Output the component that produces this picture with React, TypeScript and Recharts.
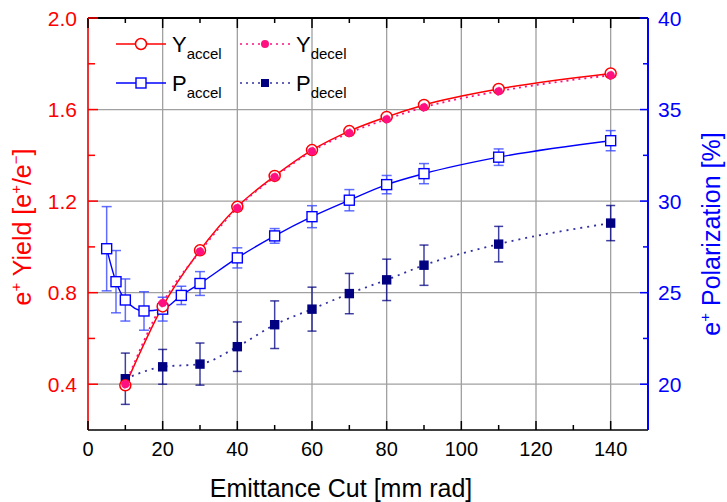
import React from 'react';
import { LineChart, Line, XAxis, YAxis, CartesianGrid, ErrorBar } from 'recharts';

// emittance cut values [mm rad]
const yieldCuts = [10, 20, 30, 40, 50, 60, 70, 80, 90, 110, 140];
const yieldAccel = [0.395, 0.74, 0.985, 1.175, 1.31, 1.423, 1.506, 1.568, 1.62, 1.69, 1.758];
const yieldDecel = [0.4, 0.755, 0.98, 1.17, 1.305, 1.418, 1.498, 1.558, 1.61, 1.68, 1.75];

const polAccelCuts = [5, 7.5, 10, 15, 20, 25, 30, 40, 50, 60, 70, 80, 90, 110, 140];
const polAccel = [27.4, 25.6, 24.6, 24.0, 24.1, 24.85, 25.5, 26.9, 28.1, 29.15, 30.05, 30.9, 31.5, 32.4, 33.3];
const polAccelErr = [2.3, 1.7, 1.15, 1.05, 0.65, 0.5, 0.65, 0.55, 0.4, 0.6, 0.58, 0.5, 0.55, 0.45, 0.55];

const polDecelCuts = [10, 20, 30, 40, 50, 60, 70, 80, 90, 110, 140];
const polDecel = [20.3, 20.95, 21.1, 22.05, 23.25, 24.1, 24.95, 25.7, 26.5, 27.65, 28.8];
const polDecelErr = [1.4, 0.95, 1.15, 1.35, 1.3, 1.2, 1.1, 1.13, 1.1, 0.97, 0.96];

// axis ticks
const xTicks = [0, 10, 20, 30, 40, 50, 60, 70, 80, 90, 100, 110, 120, 130, 140];
const xMajor = [0, 20, 40, 60, 80, 100, 120, 140];
const yieldTicks = [0.4, 0.6, 0.8, 1.0, 1.2, 1.4, 1.6, 1.8, 2.0];
const yieldMajor = [0.4, 0.8, 1.2, 1.6, 2.0];
const polTicks = [20, 22.5, 25, 27.5, 30, 32.5, 35, 37.5, 40];
const polMajor = [20, 25, 30, 35, 40];

const yAccelData = yieldCuts.map((x, i) => ({ x, v: yieldAccel[i] }));
const yDecelData = yieldCuts.map((x, i) => ({ x, v: yieldDecel[i] }));
const pAccelData = polAccelCuts.map((x, i) => ({ x, v: polAccel[i], err: polAccelErr[i] }));
const pDecelData = polDecelCuts.map((x, i) => ({ x, v: polDecel[i], err: polDecelErr[i] }));

const FONT = '"Liberation Sans", Arial, Helvetica, sans-serif';
const RED = '#ff0000';
const PINK = '#ff1080';
const BLUE = '#0000ff';
const NAVY = '#000080';

const isIn = (arr: number[], v: number) => arr.some((a) => Math.abs(a - v) < 1e-9);

const bottomTick = (p: any) => {
  const major = isIn(xMajor, p.payload.value);
  return (
    <g>
      <line x1={p.x} x2={p.x} y1={p.y} y2={p.y - (major ? 9 : 5)} stroke="#000" strokeWidth={1.5} />
      {major && (
        <text x={p.x} y={p.y + 26} textAnchor="middle" fontSize={20} fill="#000" fontFamily={FONT}>
          {p.payload.value}
        </text>
      )}
    </g>
  );
};

const topTick = (p: any) => {
  const major = isIn(xMajor, p.payload.value);
  return <line x1={p.x} x2={p.x} y1={p.y} y2={p.y + (major ? 10 : 5)} stroke="#000" strokeWidth={1.5} />;
};

const leftTick = (p: any) => {
  const major = isIn(yieldMajor, p.payload.value);
  return (
    <g>
      <line x1={p.x} x2={p.x + (major ? 10 : 7)} y1={p.y} y2={p.y} stroke={RED} strokeWidth={1.5} />
      {major && (
        <text x={p.x - 11} y={p.y + 7.5} textAnchor="end" fontSize={21} fill={RED} fontFamily={FONT}>
          {p.payload.value.toFixed(1)}
        </text>
      )}
    </g>
  );
};

const rightTick = (p: any) => {
  const major = isIn(polMajor, p.payload.value);
  return (
    <g>
      <line x1={p.x} x2={p.x - (major ? 8 : 5)} y1={p.y} y2={p.y} stroke={BLUE} strokeWidth={1.5} />
      {major && (
        <text x={p.x + 10} y={p.y + 7.5} textAnchor="start" fontSize={21} fill={BLUE} fontFamily={FONT}>
          {p.payload.value}
        </text>
      )}
    </g>
  );
};

const squareDot = (size: number, fill: string, stroke: string) => (p: any) => (
  <rect
    key={`sq-${p.index}`}
    x={p.cx - size / 2}
    y={p.cy - size / 2}
    width={size}
    height={size}
    fill={fill}
    stroke={stroke}
    strokeWidth={1.4}
  />
);

const xTitle = () => (
  <text x={341} y={497} textAnchor="middle" fontSize={25} fill="#000" fontFamily={FONT}>
    Emittance Cut [mm rad]
  </text>
);

const leftTitle = () => (
  <text transform="translate(31,227) rotate(-90)" textAnchor="middle" fontSize={25} fill={RED} fontFamily={FONT}>
    e<tspan dy={-10} fontSize={15}>+</tspan>
    <tspan dy={10}> Yield [e</tspan>
    <tspan dy={-10} fontSize={15}>+</tspan>
    <tspan dy={10}>/e</tspan>
    <tspan dy={-10} fontSize={15}>−</tspan>
    <tspan dy={10}>]</tspan>
  </text>
);

const rightTitle = () => (
  <text transform="translate(720,234) rotate(-90)" textAnchor="middle" fontSize={25} fill={BLUE} fontFamily={FONT}>
    e<tspan dy={-10} fontSize={15}>+</tspan>
    <tspan dy={10}> Polarization [%]</tspan>
  </text>
);

const LegendOverlay = () => {
  const sym = (kind: string, cx: number, cy: number) => {
    if (kind === 'circle') return <circle cx={cx} cy={cy} r={5.5} fill="#fff" stroke={RED} strokeWidth={1.5} />;
    if (kind === 'dot') return <circle cx={cx} cy={cy} r={4} fill={PINK} />;
    if (kind === 'square') return <rect x={cx - 5} y={cy - 5} width={10} height={10} fill="#fff" stroke={BLUE} strokeWidth={1.4} />;
    return <rect x={cx - 4} y={cy - 4} width={8} height={8} fill={NAVY} />;
  };
  const items = [
    { x: 116, y: 44, color: RED, dash: undefined, kind: 'circle', main: 'Y', sub: 'accel' },
    { x: 240, y: 44, color: PINK, dash: '2 4', kind: 'dot', main: 'Y', sub: 'decel' },
    { x: 116, y: 83, color: BLUE, dash: undefined, kind: 'square', main: 'P', sub: 'accel' },
    { x: 240, y: 83, color: '#3030a0', dash: '2 4', kind: 'navy', main: 'P', sub: 'decel' },
  ];
  return (
    <svg width={727} height={502} style={{ position: 'absolute', left: 0, top: 0, pointerEvents: 'none' }}>
      {items.map((it) => (
        <g key={it.main + it.sub}>
          <line x1={it.x} x2={it.x + 50} y1={it.y} y2={it.y} stroke={it.color} strokeWidth={1.5} strokeDasharray={it.dash} />
          {sym(it.kind, it.x + 25, it.y)}
          <text x={it.x + 56} y={it.y + 8} fontSize={22} fill="#000" fontFamily={FONT}>
            {it.main}
            <tspan dy={7} fontSize={15}>{it.sub}</tspan>
          </text>
        </g>
      ))}
    </svg>
  );
};

export default function App() {
  return (
    <div style={{ position: 'absolute', left: 0, top: 0, width: 727, height: 502, background: '#fff', fontFamily: FONT }}>
      <LineChart width={727} height={502} margin={{ top: 17, right: 0, bottom: 0, left: 0 }}>
        <CartesianGrid
          xAxisId="bottom"
          yAxisId="left"
          stroke="#a0a0a0"
          strokeWidth={1.3}
          horizontalValues={yieldMajor}
          verticalValues={xMajor}
        />
        <XAxis
          xAxisId="bottom"
          dataKey="x"
          type="number"
          domain={[0, 150]}
          ticks={xTicks}
          interval={0}
          allowDataOverflow
          tick={bottomTick}
          tickLine={false}
          tickSize={0}
          tickMargin={0}
          height={72}
          axisLine={{ stroke: '#000', strokeWidth: 1.5 }}
          label={xTitle}
        />
        <XAxis
          xAxisId="top"
          orientation="top"
          dataKey="x"
          type="number"
          domain={[0, 150]}
          ticks={xTicks}
          interval={0}
          allowDataOverflow
          tick={topTick}
          tickLine={false}
          tickSize={0}
          tickMargin={0}
          height={1}
          axisLine={{ stroke: '#000', strokeWidth: 2 }}
        />
        <YAxis
          yAxisId="left"
          type="number"
          domain={[0.2, 2.0]}
          ticks={yieldTicks}
          interval={0}
          allowDataOverflow
          tick={leftTick}
          tickLine={false}
          tickSize={0}
          tickMargin={0}
          width={88}
          axisLine={{ stroke: RED, strokeWidth: 1.5 }}
          label={leftTitle}
        />
        <YAxis
          yAxisId="right"
          orientation="right"
          type="number"
          domain={[17.5, 40]}
          ticks={polTicks}
          interval={0}
          allowDataOverflow
          tick={rightTick}
          tickLine={false}
          tickSize={0}
          tickMargin={0}
          width={79}
          axisLine={{ stroke: BLUE, strokeWidth: 2 }}
          label={rightTitle}
        />
        <Line
          xAxisId="bottom"
          yAxisId="right"
          data={pDecelData}
          dataKey="v"
          type="monotone"
          stroke="#3030a0"
          strokeWidth={1.8}
          strokeDasharray="2 5"
          dot={squareDot(8, NAVY, NAVY)}
          isAnimationActive={false}
        >
          <ErrorBar dataKey="err" direction="y" width={4.5} stroke={NAVY} strokeOpacity={0.75} strokeWidth={1.5} />
        </Line>
        <Line
          xAxisId="bottom"
          yAxisId="right"
          data={pAccelData}
          dataKey="v"
          type="monotone"
          stroke={BLUE}
          strokeWidth={1.4}
          dot={squareDot(10, '#fff', BLUE)}
          isAnimationActive={false}
        >
          <ErrorBar dataKey="err" direction="y" width={5} stroke="#3848ff" strokeOpacity={0.8} strokeWidth={1.5} />
        </Line>
        <Line
          xAxisId="bottom"
          yAxisId="left"
          data={yAccelData}
          dataKey="v"
          type="monotone"
          stroke={RED}
          strokeWidth={1.5}
          dot={{ r: 5.5, fill: '#fff', stroke: RED, strokeWidth: 1.5 }}
          isAnimationActive={false}
        />
        <Line
          xAxisId="bottom"
          yAxisId="left"
          data={yDecelData}
          dataKey="v"
          type="monotone"
          stroke={PINK}
          strokeWidth={1.8}
          strokeDasharray="2 4"
          dot={{ r: 4, fill: PINK, stroke: PINK, strokeWidth: 1 }}
          isAnimationActive={false}
        />
      </LineChart>
      <LegendOverlay />
    </div>
  );
}
